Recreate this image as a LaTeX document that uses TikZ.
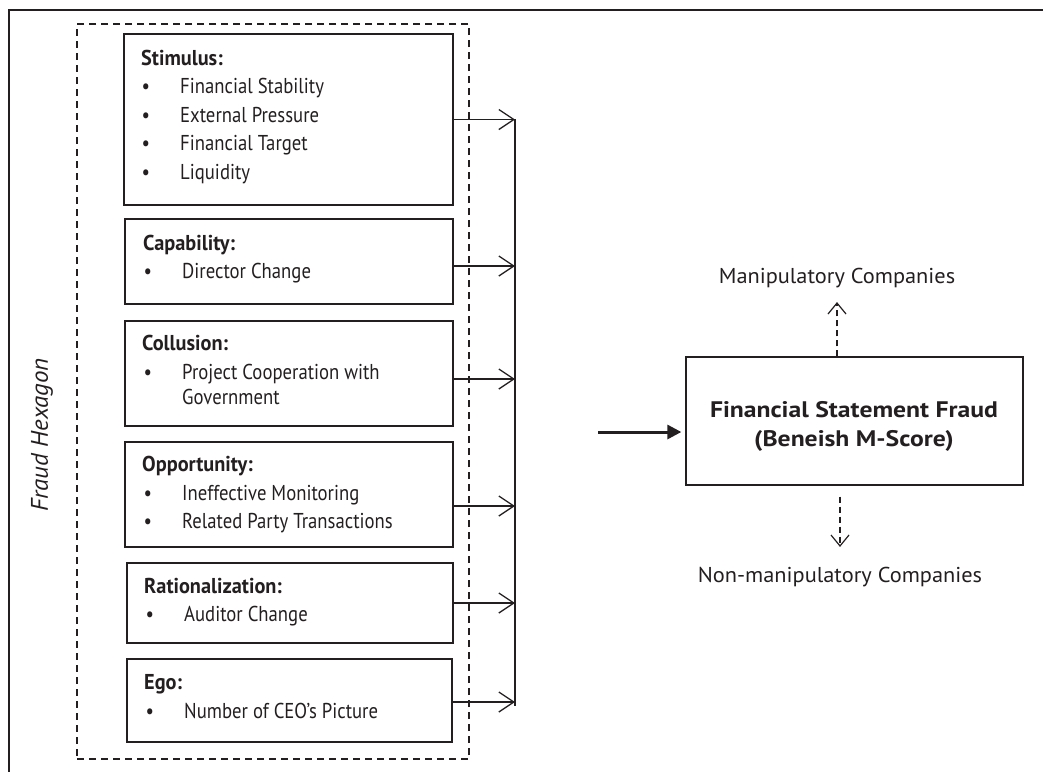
\documentclass[tikz,border=0pt]{standalone}
\usepackage{fontspec}
\setmainfont{PT Sans}[FakeStretch=0.87]
\newfontfamily\boxtitlefont{PT Sans}[FakeStretch=0.945]
\newfontfamily\widefont{PT Sans}[FakeStretch=1.04]
\newfontfamily\titlefont{PT Sans}[FakeStretch=1.14]
\usetikzlibrary{arrows.meta}
\definecolor{ink}{HTML}{231F20}
\begin{document}
\begin{tikzpicture}[x=1pt,y=-1pt,
  every node/.style={text=ink},
  box/.style={draw=ink,line width=1.3pt,inner sep=0pt},
  ttl/.style={anchor=base west,inner sep=0pt,font=\boxtitlefont\fontsize{21.5}{25}\selectfont\bfseries},
  itm/.style={anchor=base west,inner sep=0pt,font=\fontsize{21.5}{25}\selectfont},
  side/.style={inner sep=0pt,font=\widefont\fontsize{21.5}{25}\selectfont},
  feed/.style={draw=ink,line width=1.3pt,-{Straight Barb[length=15pt,width=20pt,line width=1.3pt]}},
  outcome/.style={draw=ink,line width=1.2pt,dash pattern=on 6pt off 4pt,-{Straight Barb[length=11pt,width=18pt,line width=1.2pt]}},
]
\useasboundingbox (0,0) rectangle (1043,772);
% outer frame (cropped)
\draw[ink,line width=1.5pt] (1043,10) -- (9,10) -- (9,772);
% dashed group
\node[draw=ink,line width=1.2pt,dash pattern=on 7pt off 5pt,minimum width=392pt,minimum height=735pt,inner sep=0pt] (hex) at (273,391.5) {};
\node[rotate=90,inner sep=0pt,font=\widefont\fontsize{24}{28}\selectfont\itshape] (hexlbl) at (42,435) {Fraud Hexagon};

% boxes
\node[box,minimum width=329pt,minimum height=171pt] (stim) at (288.5,119.5) {};
\node[box,minimum width=328pt,minimum height=85pt] (cap) at (289,261.5) {};
\node[box,minimum width=328pt,minimum height=105pt] (col) at (289,373.5) {};
\node[box,minimum width=328pt,minimum height=105pt] (opp) at (289,494.5) {};
\node[box,minimum width=326pt,minimum height=80pt] (rat) at (290,603) {};
\node[box,minimum width=325pt,minimum height=83pt] (ego) at (289.5,700.5) {};

% texts
\newcommand{\bul}{\llap{•\hspace{30pt}}}
\node[ttl] (t1) at (141,65) {Stimulus:};
\node[itm] (i11) at (180,93) {\bul Financial Stability};
\node[itm] (i12) at (180,122) {\bul External Pressure};
\node[itm] (i13) at (180,150) {\bul Financial Target};
\node[itm] (i14) at (180,179) {\bul Liquidity};

\node[ttl] (t2) at (143,250) {Capability:};
\node[itm] (i21) at (182,278) {\bul Director Change};

\node[ttl] (t3) at (142,350) {Collusion:};
\node[itm] (i31) at (182,379) {\bul Project Cooperation with};
\node[itm] (i32) at (182,404) {Government};

\node[ttl] (t4) at (142,471) {Opportunity:};
\node[itm] (i41) at (182,500) {\bul Ineffective Monitoring};
\node[itm] (i42) at (182,528) {\bul Related Party Transactions};

\node[ttl] (t5) at (144,593) {Rationalization:};
\node[itm] (i51) at (184,621) {\bul Auditor Change};

\node[ttl] (t6) at (144,689) {Ego:};
\node[itm] (i61) at (184,718) {\bul Number of CEO’s Picture};

% collector bus
\coordinate (busTop) at (515,119);
\coordinate (busBot) at (515,706);
\draw[ink,line width=1.3pt] (busTop) -- (busBot);
\draw[feed] (stim.east) -- (stim.east -| busTop);
\draw[feed] ([yshift=-4.5pt]cap.east) -- ([yshift=-4.5pt]cap.east -| busTop);
\draw[feed] ([yshift=-5.5pt]col.east) -- ([yshift=-5.5pt]col.east -| busTop);
\draw[feed] ([yshift=-11.5pt]opp.east) -- ([yshift=-11.5pt]opp.east -| busTop);
\draw[feed] (rat.east) -- (rat.east -| busTop);
\draw[feed] ([yshift=-1.5pt]ego.east) -- ([yshift=-1.5pt]ego.east -| busTop);

% result
\node[box,minimum width=337pt,minimum height=128pt] (fsf) at (854.5,421) {};
\node[align=center,inner sep=0pt,font=\titlefont\fontsize{22.5}{29}\selectfont\bfseries] (fsflbl) at (854,426) {Financial Statement Fraud\\(Beneish M-Score)};
\coordinate (fin) at (598,432);
\draw[ink,line width=3pt,-{Triangle[length=14pt,width=14pt]}] (fin) -- ([xshift=-4pt]fsf.west |- fin);

\node[side] (manip) at (837,278) {Manipulatory Companies};
\node[side] (nonmanip) at (840,577) {Non-manipulatory Companies};
\draw[outcome] (fsf.north -| manip) -- ([yshift=-14pt]manip.south);
\draw[outcome] ([yshift=-11pt]fsf.south -| nonmanip) -- ([yshift=20pt]nonmanip.north);
\end{tikzpicture}
\end{document}
